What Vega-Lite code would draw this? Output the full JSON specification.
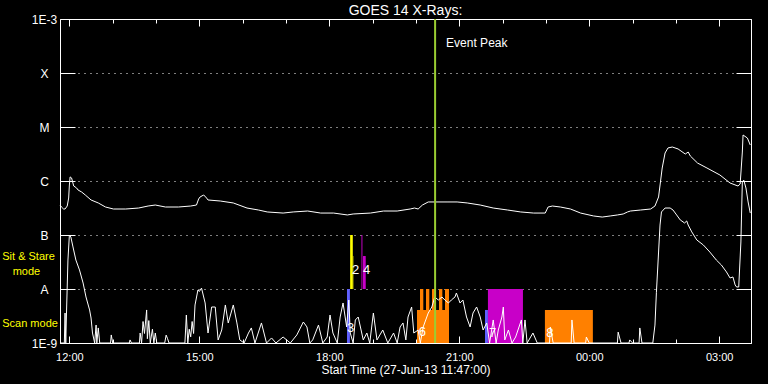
{
  "$schema": "https://vega.github.io/schema/vega-lite/v6.json",
  "width": 691,
  "height": 324,
  "autosize": {"type": "none"},
  "padding": {"left": 60, "top": 19, "right": 17, "bottom": 41},
  "background": "black",
  "title": {"text": "GOES 14 X-Rays:", "color": "white", "fontSize": 14, "fontWeight": "normal", "font": "Liberation Sans", "offset": -5},
  "config": {
    "view": {"stroke": null},
    "font": "Liberation Sans",
    "axis": {"labelColor": "white", "titleColor": "white", "tickColor": "white", "domainColor": "white", "gridColor": "white", "labelFont": "Liberation Sans", "titleFont": "Liberation Sans", "titleFontWeight": "normal", "tickWidth": 1, "domainWidth": 1, "gridOpacity": 1}
  },
  "datasets": {
    "xray": [
      {"ch":"long","t":"2013-06-27T11:47Z","f":3.59e-7},{"ch":"long","t":"2013-06-27T11:49Z","f":3.30e-7},{"ch":"long","t":"2013-06-27T11:52Z","f":3.03e-7},{"ch":"long","t":"2013-06-27T11:54Z","f":3.03e-7},{"ch":"long","t":"2013-06-27T11:57Z","f":3.44e-7},{"ch":"long","t":"2013-06-27T11:59Z","f":4.84e-7},{"ch":"long","t":"2013-06-27T12:00Z","f":8.43e-7},{"ch":"long","t":"2013-06-27T12:01Z","f":1.19e-6},{"ch":"long","t":"2013-06-27T12:03Z","f":1.14e-6},{"ch":"long","t":"2013-06-27T12:06Z","f":8.08e-7},{"ch":"long","t":"2013-06-27T12:10Z","f":7.42e-7},{"ch":"long","t":"2013-06-27T12:12Z","f":6.81e-7},{"ch":"long","t":"2013-06-27T12:17Z","f":6.25e-7},{"ch":"long","t":"2013-06-27T12:22Z","f":5.51e-7},{"ch":"long","t":"2013-06-27T12:30Z","f":4.45e-7},{"ch":"long","t":"2013-06-27T12:40Z","f":3.92e-7},{"ch":"long","t":"2013-06-27T12:50Z","f":3.30e-7},{"ch":"long","t":"2013-06-27T13:01Z","f":3.03e-7},{"ch":"long","t":"2013-06-27T13:18Z","f":3.03e-7},{"ch":"long","t":"2013-06-27T13:36Z","f":3.16e-7},{"ch":"long","t":"2013-06-27T13:49Z","f":3.44e-7},{"ch":"long","t":"2013-06-27T13:59Z","f":3.59e-7},{"ch":"long","t":"2013-06-27T14:13Z","f":3.30e-7},{"ch":"long","t":"2013-06-27T14:31Z","f":3.30e-7},{"ch":"long","t":"2013-06-27T14:48Z","f":3.44e-7},{"ch":"long","t":"2013-06-27T14:56Z","f":3.59e-7},{"ch":"long","t":"2013-06-27T14:59Z","f":4.64e-7},{"ch":"long","t":"2013-06-27T15:01Z","f":5.06e-7},{"ch":"long","t":"2013-06-27T15:06Z","f":5.51e-7},{"ch":"long","t":"2013-06-27T15:10Z","f":4.84e-7},{"ch":"long","t":"2013-06-27T15:12Z","f":4.45e-7},{"ch":"long","t":"2013-06-27T15:29Z","f":4.26e-7},{"ch":"long","t":"2013-06-27T15:47Z","f":3.92e-7},{"ch":"long","t":"2013-06-27T16:06Z","f":3.16e-7},{"ch":"long","t":"2013-06-27T16:22Z","f":2.90e-7},{"ch":"long","t":"2013-06-27T16:34Z","f":2.67e-7},{"ch":"long","t":"2013-06-27T16:56Z","f":2.55e-7},{"ch":"long","t":"2013-06-27T17:10Z","f":2.67e-7},{"ch":"long","t":"2013-06-27T17:30Z","f":2.78e-7},{"ch":"long","t":"2013-06-27T17:48Z","f":2.55e-7},{"ch":"long","t":"2013-06-27T18:06Z","f":2.55e-7},{"ch":"long","t":"2013-06-27T18:25Z","f":2.35e-7},{"ch":"long","t":"2013-06-27T18:33Z","f":2.45e-7},{"ch":"long","t":"2013-06-27T18:57Z","f":2.55e-7},{"ch":"long","t":"2013-06-27T19:15Z","f":2.78e-7},{"ch":"long","t":"2013-06-27T19:34Z","f":2.78e-7},{"ch":"long","t":"2013-06-27T19:52Z","f":3.03e-7},{"ch":"long","t":"2013-06-27T19:58Z","f":3.16e-7},{"ch":"long","t":"2013-06-27T20:03Z","f":3.03e-7},{"ch":"long","t":"2013-06-27T20:09Z","f":3.59e-7},{"ch":"long","t":"2013-06-27T20:17Z","f":4.09e-7},{"ch":"long","t":"2013-06-27T20:43Z","f":4.09e-7},{"ch":"long","t":"2013-06-27T20:57Z","f":4.09e-7},{"ch":"long","t":"2013-06-27T21:11Z","f":3.92e-7},{"ch":"long","t":"2013-06-27T21:29Z","f":3.59e-7},{"ch":"long","t":"2013-06-27T21:47Z","f":3.16e-7},{"ch":"long","t":"2013-06-27T22:07Z","f":2.90e-7},{"ch":"long","t":"2013-06-27T22:25Z","f":2.67e-7},{"ch":"long","t":"2013-06-27T22:43Z","f":2.55e-7},{"ch":"long","t":"2013-06-27T22:59Z","f":2.55e-7},{"ch":"long","t":"2013-06-27T23:03Z","f":3.30e-7},{"ch":"long","t":"2013-06-27T23:09Z","f":3.44e-7},{"ch":"long","t":"2013-06-27T23:20Z","f":3.30e-7},{"ch":"long","t":"2013-06-27T23:34Z","f":3.03e-7},{"ch":"long","t":"2013-06-27T23:48Z","f":2.55e-7},{"ch":"long","t":"2013-06-28T00:06Z","f":2.25e-7},{"ch":"long","t":"2013-06-28T00:18Z","f":2.15e-7},{"ch":"long","t":"2013-06-28T00:29Z","f":2.25e-7},{"ch":"long","t":"2013-06-28T00:39Z","f":2.35e-7},{"ch":"long","t":"2013-06-28T00:47Z","f":2.45e-7},{"ch":"long","t":"2013-06-28T00:53Z","f":2.67e-7},{"ch":"long","t":"2013-06-28T00:57Z","f":2.78e-7},{"ch":"long","t":"2013-06-28T01:11Z","f":2.90e-7},{"ch":"long","t":"2013-06-28T01:25Z","f":3.03e-7},{"ch":"long","t":"2013-06-28T01:31Z","f":3.44e-7},{"ch":"long","t":"2013-06-28T01:36Z","f":5.06e-7},{"ch":"long","t":"2013-06-28T01:41Z","f":1.74e-6},{"ch":"long","t":"2013-06-28T01:45Z","f":3.30e-6},{"ch":"long","t":"2013-06-28T01:49Z","f":4.09e-6},{"ch":"long","t":"2013-06-28T01:55Z","f":4.26e-6},{"ch":"long","t":"2013-06-28T02:03Z","f":3.92e-6},{"ch":"long","t":"2013-06-28T02:13Z","f":3.16e-6},{"ch":"long","t":"2013-06-28T02:17Z","f":3.44e-6},{"ch":"long","t":"2013-06-28T02:20Z","f":2.90e-6},{"ch":"long","t":"2013-06-28T02:30Z","f":2.15e-6},{"ch":"long","t":"2013-06-28T02:43Z","f":1.74e-6},{"ch":"long","t":"2013-06-28T03:01Z","f":1.29e-6},{"ch":"long","t":"2013-06-28T03:15Z","f":9.18e-7},{"ch":"long","t":"2013-06-28T03:26Z","f":8.08e-7},{"ch":"long","t":"2013-06-28T03:29Z","f":8.79e-7},{"ch":"long","t":"2013-06-28T03:32Z","f":3.44e-6},{"ch":"long","t":"2013-06-28T03:33Z","f":7.11e-6},{"ch":"long","t":"2013-06-28T03:39Z","f":6.25e-6},{"ch":"long","t":"2013-06-28T03:43Z","f":4.64e-6},
      {"ch":"short","t":"2013-06-27T11:47Z","f":1e-9},{"ch":"short","t":"2013-06-27T11:53Z","f":1e-9},{"ch":"short","t":"2013-06-27T11:54Z","f":3.59e-9},{"ch":"short","t":"2013-06-27T11:55Z","f":1e-9},{"ch":"short","t":"2013-06-27T11:56Z","f":3.59e-9},{"ch":"short","t":"2013-06-27T11:58Z","f":3.44e-8},{"ch":"short","t":"2013-06-27T12:00Z","f":1.0e-7},{"ch":"short","t":"2013-06-27T12:02Z","f":9.2e-8},{"ch":"short","t":"2013-06-27T12:05Z","f":6.0e-8},{"ch":"short","t":"2013-06-27T12:09Z","f":3.44e-8},{"ch":"short","t":"2013-06-27T12:14Z","f":2.25e-8},{"ch":"short","t":"2013-06-27T12:19Z","f":1.29e-8},{"ch":"short","t":"2013-06-27T12:23Z","f":7.11e-9},{"ch":"short","t":"2013-06-27T12:28Z","f":4.09e-9},{"ch":"short","t":"2013-06-27T12:30Z","f":2.9e-9},{"ch":"short","t":"2013-06-27T12:32Z","f":1.53e-9},{"ch":"short","t":"2013-06-27T12:35Z","f":1e-9},{"ch":"short","t":"2013-06-27T12:37Z","f":2.15e-9},{"ch":"short","t":"2013-06-27T12:38Z","f":1e-9},{"ch":"short","t":"2013-06-27T12:40Z","f":1.9e-9},{"ch":"short","t":"2013-06-27T12:42Z","f":1e-9},{"ch":"short","t":"2013-06-27T12:57Z","f":1e-9},{"ch":"short","t":"2013-06-27T12:58Z","f":1.41e-9},{"ch":"short","t":"2013-06-27T13:00Z","f":1e-9},{"ch":"short","t":"2013-06-27T13:23Z","f":1e-9},{"ch":"short","t":"2013-06-27T13:24Z","f":1.14e-9},{"ch":"short","t":"2013-06-27T13:26Z","f":1e-9},{"ch":"short","t":"2013-06-27T13:37Z","f":1e-9},{"ch":"short","t":"2013-06-27T13:38Z","f":1.53e-9},{"ch":"short","t":"2013-06-27T13:40Z","f":1e-9},{"ch":"short","t":"2013-06-27T13:42Z","f":2.5e-9},{"ch":"short","t":"2013-06-27T13:44Z","f":1.5e-9},{"ch":"short","t":"2013-06-27T13:47Z","f":4.09e-9},{"ch":"short","t":"2013-06-27T13:48Z","f":1.2e-9},{"ch":"short","t":"2013-06-27T13:50Z","f":2.6e-9},{"ch":"short","t":"2013-06-27T13:52Z","f":1e-9},{"ch":"short","t":"2013-06-27T13:55Z","f":1.8e-9},{"ch":"short","t":"2013-06-27T13:57Z","f":1e-9},{"ch":"short","t":"2013-06-27T13:59Z","f":1.53e-9},{"ch":"short","t":"2013-06-27T14:01Z","f":1e-9},{"ch":"short","t":"2013-06-27T14:12Z","f":1e-9},{"ch":"short","t":"2013-06-27T14:14Z","f":1.4e-9},{"ch":"short","t":"2013-06-27T14:16Z","f":1.2e-9},{"ch":"short","t":"2013-06-27T14:18Z","f":1e-9},{"ch":"short","t":"2013-06-27T14:40Z","f":1e-9},{"ch":"short","t":"2013-06-27T14:42Z","f":3.3e-9},{"ch":"short","t":"2013-06-27T14:44Z","f":1e-9},{"ch":"short","t":"2013-06-27T14:46Z","f":1.8e-9},{"ch":"short","t":"2013-06-27T14:48Z","f":1.3e-9},{"ch":"short","t":"2013-06-27T14:50Z","f":2.5e-9},{"ch":"short","t":"2013-06-27T14:52Z","f":1.5e-9},{"ch":"short","t":"2013-06-27T14:54Z","f":5.06e-9},{"ch":"short","t":"2013-06-27T14:58Z","f":9.58e-9},{"ch":"short","t":"2013-06-27T15:00Z","f":9.0e-9},{"ch":"short","t":"2013-06-27T15:03Z","f":1.04e-8},{"ch":"short","t":"2013-06-27T15:08Z","f":5.51e-9},{"ch":"short","t":"2013-06-27T15:12Z","f":1.53e-9},{"ch":"short","t":"2013-06-27T15:17Z","f":4.64e-9},{"ch":"short","t":"2013-06-27T15:22Z","f":4.64e-9},{"ch":"short","t":"2013-06-27T15:26Z","f":1.14e-9},{"ch":"short","t":"2013-06-27T15:31Z","f":1.74e-9},{"ch":"short","t":"2013-06-27T15:36Z","f":5.06e-9},{"ch":"short","t":"2013-06-27T15:40Z","f":2.35e-9},{"ch":"short","t":"2013-06-27T15:47Z","f":5.06e-9},{"ch":"short","t":"2013-06-27T15:52Z","f":2.35e-9},{"ch":"short","t":"2013-06-27T15:56Z","f":1.14e-9},{"ch":"short","t":"2013-06-27T16:02Z","f":1e-9},{"ch":"short","t":"2013-06-27T16:08Z","f":1.53e-9},{"ch":"short","t":"2013-06-27T16:12Z","f":1.9e-9},{"ch":"short","t":"2013-06-27T16:17Z","f":1e-9},{"ch":"short","t":"2013-06-27T16:26Z","f":2.35e-9},{"ch":"short","t":"2013-06-27T16:33Z","f":1e-9},{"ch":"short","t":"2013-06-27T16:40Z","f":1.24e-9},{"ch":"short","t":"2013-06-27T16:46Z","f":1e-9},{"ch":"short","t":"2013-06-27T16:56Z","f":1.29e-9},{"ch":"short","t":"2013-06-27T17:06Z","f":1e-9},{"ch":"short","t":"2013-06-27T17:15Z","f":1.41e-9},{"ch":"short","t":"2013-06-27T17:24Z","f":2.45e-9},{"ch":"short","t":"2013-06-27T17:29Z","f":1.98e-9},{"ch":"short","t":"2013-06-27T17:33Z","f":1e-9},{"ch":"short","t":"2013-06-27T17:37Z","f":1.14e-9},{"ch":"short","t":"2013-06-27T17:45Z","f":2.15e-9},{"ch":"short","t":"2013-06-27T17:51Z","f":1e-9},{"ch":"short","t":"2013-06-27T17:57Z","f":1.29e-9},{"ch":"short","t":"2013-06-27T18:01Z","f":3.3e-9},{"ch":"short","t":"2013-06-27T18:05Z","f":1.53e-9},{"ch":"short","t":"2013-06-27T18:11Z","f":1e-9},{"ch":"short","t":"2013-06-27T18:15Z","f":3.03e-9},{"ch":"short","t":"2013-06-27T18:19Z","f":5.51e-9},{"ch":"short","t":"2013-06-27T18:24Z","f":1.98e-9},{"ch":"short","t":"2013-06-27T18:27Z","f":6.25e-9},{"ch":"short","t":"2013-06-27T18:29Z","f":1.53e-9},{"ch":"short","t":"2013-06-27T18:33Z","f":1e-9},{"ch":"short","t":"2013-06-27T18:36Z","f":2.67e-9},{"ch":"short","t":"2013-06-27T18:40Z","f":3.03e-9},{"ch":"short","t":"2013-06-27T18:47Z","f":1.14e-9},{"ch":"short","t":"2013-06-27T18:52Z","f":1.53e-9},{"ch":"short","t":"2013-06-27T18:56Z","f":1e-9},{"ch":"short","t":"2013-06-27T19:01Z","f":3.59e-9},{"ch":"short","t":"2013-06-27T19:06Z","f":1.14e-9},{"ch":"short","t":"2013-06-27T19:14Z","f":1.74e-9},{"ch":"short","t":"2013-06-27T19:21Z","f":1e-9},{"ch":"short","t":"2013-06-27T19:29Z","f":1.53e-9},{"ch":"short","t":"2013-06-27T19:34Z","f":1e-9},{"ch":"short","t":"2013-06-27T19:38Z","f":1.98e-9},{"ch":"short","t":"2013-06-27T19:42Z","f":2.35e-9},{"ch":"short","t":"2013-06-27T19:46Z","f":1.14e-9},{"ch":"short","t":"2013-06-27T19:49Z","f":3.03e-9},{"ch":"short","t":"2013-06-27T19:54Z","f":4.64e-9},{"ch":"short","t":"2013-06-27T19:57Z","f":1.53e-9},{"ch":"short","t":"2013-06-27T20:03Z","f":1.74e-9},{"ch":"short","t":"2013-06-27T20:06Z","f":1e-9},{"ch":"short","t":"2013-06-27T20:10Z","f":1.98e-9},{"ch":"short","t":"2013-06-27T20:17Z","f":3.59e-9},{"ch":"short","t":"2013-06-27T20:22Z","f":4.64e-9},{"ch":"short","t":"2013-06-27T20:26Z","f":7.11e-9},{"ch":"short","t":"2013-06-27T20:31Z","f":6.25e-9},{"ch":"short","t":"2013-06-27T20:36Z","f":7.11e-9},{"ch":"short","t":"2013-06-27T20:40Z","f":6.25e-9},{"ch":"short","t":"2013-06-27T20:45Z","f":5.51e-9},{"ch":"short","t":"2013-06-27T20:49Z","f":6.25e-9},{"ch":"short","t":"2013-06-27T20:54Z","f":7.11e-9},{"ch":"short","t":"2013-06-27T20:56Z","f":8.43e-9},{"ch":"short","t":"2013-06-27T21:01Z","f":5.51e-9},{"ch":"short","t":"2013-06-27T21:05Z","f":6.25e-9},{"ch":"short","t":"2013-06-27T21:10Z","f":3.03e-9},{"ch":"short","t":"2013-06-27T21:15Z","f":1.98e-9},{"ch":"short","t":"2013-06-27T21:19Z","f":3.59e-9},{"ch":"short","t":"2013-06-27T21:24Z","f":4.64e-9},{"ch":"short","t":"2013-06-27T21:29Z","f":3.03e-9},{"ch":"short","t":"2013-06-27T21:33Z","f":1.74e-9},{"ch":"short","t":"2013-06-27T21:38Z","f":2.35e-9},{"ch":"short","t":"2013-06-27T21:42Z","f":1e-9},{"ch":"short","t":"2013-06-27T21:47Z","f":2.67e-9},{"ch":"short","t":"2013-06-27T21:51Z","f":1e-9},{"ch":"short","t":"2013-06-27T21:54Z","f":1.74e-9},{"ch":"short","t":"2013-06-27T21:59Z","f":3.03e-9},{"ch":"short","t":"2013-06-27T22:01Z","f":4.64e-9},{"ch":"short","t":"2013-06-27T22:03Z","f":1.14e-9},{"ch":"short","t":"2013-06-27T22:08Z","f":1.74e-9},{"ch":"short","t":"2013-06-27T22:13Z","f":1e-9},{"ch":"short","t":"2013-06-27T22:18Z","f":1.29e-9},{"ch":"short","t":"2013-06-27T22:26Z","f":2.67e-9},{"ch":"short","t":"2013-06-27T22:28Z","f":1e-9},{"ch":"short","t":"2013-06-27T22:31Z","f":2.67e-9},{"ch":"short","t":"2013-06-27T22:34Z","f":1e-9},{"ch":"short","t":"2013-06-27T22:42Z","f":1.53e-9},{"ch":"short","t":"2013-06-27T22:48Z","f":1e-9},{"ch":"short","t":"2013-06-27T23:05Z","f":1e-9},{"ch":"short","t":"2013-06-27T23:06Z","f":1.98e-9},{"ch":"short","t":"2013-06-27T23:10Z","f":1e-9},{"ch":"short","t":"2013-06-27T23:35Z","f":1e-9},{"ch":"short","t":"2013-06-27T23:36Z","f":2.67e-9},{"ch":"short","t":"2013-06-27T23:39Z","f":1e-9},{"ch":"short","t":"2013-06-27T23:55Z","f":1e-9},{"ch":"short","t":"2013-06-27T23:56Z","f":1.29e-9},{"ch":"short","t":"2013-06-28T00:00Z","f":1e-9},{"ch":"short","t":"2013-06-28T00:39Z","f":1e-9},{"ch":"short","t":"2013-06-28T00:40Z","f":1.59e-9},{"ch":"short","t":"2013-06-28T00:44Z","f":1e-9},{"ch":"short","t":"2013-06-28T00:55Z","f":1e-9},{"ch":"short","t":"2013-06-28T00:56Z","f":1.14e-9},{"ch":"short","t":"2013-06-28T01:00Z","f":1e-9},{"ch":"short","t":"2013-06-28T01:09Z","f":1e-9},{"ch":"short","t":"2013-06-28T01:10Z","f":1.9e-9},{"ch":"short","t":"2013-06-28T01:13Z","f":1e-9},{"ch":"short","t":"2013-06-28T01:28Z","f":1e-9},{"ch":"short","t":"2013-06-28T01:29Z","f":1.29e-9},{"ch":"short","t":"2013-06-28T01:31Z","f":2.15e-9},{"ch":"short","t":"2013-06-28T01:33Z","f":8.7e-9},{"ch":"short","t":"2013-06-28T01:36Z","f":4.84e-8},{"ch":"short","t":"2013-06-28T01:38Z","f":1.53e-7},{"ch":"short","t":"2013-06-28T01:40Z","f":2.67e-7},{"ch":"short","t":"2013-06-28T01:45Z","f":3.16e-7},{"ch":"short","t":"2013-06-28T01:52Z","f":3.16e-7},{"ch":"short","t":"2013-06-28T01:56Z","f":2.9e-7},{"ch":"short","t":"2013-06-28T02:01Z","f":2.35e-7},{"ch":"short","t":"2013-06-28T02:06Z","f":1.9e-7},{"ch":"short","t":"2013-06-28T02:12Z","f":1.67e-7},{"ch":"short","t":"2013-06-28T02:15Z","f":1.82e-7},{"ch":"short","t":"2013-06-28T02:17Z","f":1.53e-7},{"ch":"short","t":"2013-06-28T02:22Z","f":1.14e-7},{"ch":"short","t":"2013-06-28T02:29Z","f":8.08e-8},{"ch":"short","t":"2013-06-28T02:38Z","f":6.53e-8},{"ch":"short","t":"2013-06-28T02:47Z","f":4.84e-8},{"ch":"short","t":"2013-06-28T02:56Z","f":3.44e-8},{"ch":"short","t":"2013-06-28T03:03Z","f":2.78e-8},{"ch":"short","t":"2013-06-28T03:10Z","f":2.07e-8},{"ch":"short","t":"2013-06-28T03:15Z","f":1.6e-8},{"ch":"short","t":"2013-06-28T03:19Z","f":1.67e-8},{"ch":"short","t":"2013-06-28T03:22Z","f":1.19e-8},{"ch":"short","t":"2013-06-28T03:24Z","f":1.09e-8},{"ch":"short","t":"2013-06-28T03:27Z","f":1.09e-8},{"ch":"short","t":"2013-06-28T03:30Z","f":7.42e-8},{"ch":"short","t":"2013-06-28T03:32Z","f":9.58e-7},{"ch":"short","t":"2013-06-28T03:34Z","f":1.04e-6},{"ch":"short","t":"2013-06-28T03:37Z","f":7.42e-7},{"ch":"short","t":"2013-06-28T03:40Z","f":4.09e-7},{"ch":"short","t":"2013-06-28T03:43Z","f":2.55e-7}
    ],
    "obs": [
      {"p":"P1","s":"2013-06-27T18:24:30Z","e":"2013-06-27T18:28:30Z","lo":1e-9,"hi":1e-8},
      {"p":"P2","s":"2013-06-27T18:28:50Z","e":"2013-06-27T18:32:30Z","lo":1e-8,"hi":1e-7},
      {"p":"P2","s":"2013-06-27T18:32:30Z","e":"2013-06-27T18:33:15Z","lo":1e-8,"hi":4.08e-8},
      {"p":"P3","s":"2013-06-27T18:44:30Z","e":"2013-06-27T18:45:50Z","lo":1e-8,"hi":1e-7},
      {"p":"P3","s":"2013-06-27T18:46:40Z","e":"2013-06-27T18:50:25Z","lo":1e-8,"hi":4.08e-8},
      {"p":"P4","s":"2013-06-27T20:01:25Z","e":"2013-06-27T20:45:45Z","lo":1e-9,"hi":4.09e-9},
      {"p":"P4","s":"2013-06-27T20:05:35Z","e":"2013-06-27T20:10:10Z","lo":1e-9,"hi":1e-8},
      {"p":"P4","s":"2013-06-27T20:13:55Z","e":"2013-06-27T20:18:30Z","lo":1e-9,"hi":1e-8},
      {"p":"P4","s":"2013-06-27T20:22:10Z","e":"2013-06-27T20:27:40Z","lo":1e-9,"hi":1e-8},
      {"p":"P4","s":"2013-06-27T20:31:55Z","e":"2013-06-27T20:36:30Z","lo":1e-9,"hi":1e-8},
      {"p":"P4","s":"2013-06-27T20:40:10Z","e":"2013-06-27T20:45:45Z","lo":1e-9,"hi":1e-8},
      {"p":"P1","s":"2013-06-27T21:35:35Z","e":"2013-06-27T21:39:40Z","lo":1e-9,"hi":4.09e-9},
      {"p":"P3","s":"2013-06-27T21:39:40Z","e":"2013-06-27T22:28:10Z","lo":1e-9,"hi":1e-8},
      {"p":"P4","s":"2013-06-27T22:58:35Z","e":"2013-06-28T00:05:00Z","lo":1e-9,"hi":4.09e-9}
    ],
    "nums": [
      {"n":"2","t":"2013-06-27T18:36:30Z","f":2.25e-8},
      {"n":"4","t":"2013-06-27T18:51:30Z","f":2.25e-8},
      {"n":"3","t":"2013-06-27T18:29:30Z","f":1.9e-9},
      {"n":"6","t":"2013-06-27T20:09:00Z","f":1.6e-9},
      {"n":"7","t":"2013-06-27T21:46:00Z","f":1.5e-9},
      {"n":"8","t":"2013-06-27T23:05:30Z","f":1.53e-9}
    ],
    "peak": [{"label":"Event Peak","t":"2013-06-27T20:26:30Z"}],
    "notes": [
      {"label":"Sit & Stare","t":"2013-06-27T10:27Z","f":3.91e-8},
      {"label":"mode","t":"2013-06-27T10:41:30Z","f":2.1e-8},
      {"label":"Scan mode","t":"2013-06-27T10:27Z","f":2.25e-9}
    ]
  },
  "layer": [
    {
      "data": {"name": "obs"},
      "mark": {"type": "rect"},
      "encoding": {
        "x": {"field": "s", "type": "temporal",
          "scale": {"type": "utc", "domain": ["2013-06-27T11:47:00Z", "2013-06-28T03:44:00Z"], "nice": false},
          "axis": {"orient": "bottom", "format": "%H:%M", "values": ["2013-06-27T12:00:00Z","2013-06-27T15:00:00Z","2013-06-27T18:00:00Z","2013-06-27T21:00:00Z","2013-06-28T00:00:00Z","2013-06-28T03:00:00Z"], "tickSize": -7, "labelPadding": 15, "labelFontSize": 11, "labelFlush": false, "labelOverlap": false, "title": "Start Time (27-Jun-13 11:47:00)", "titleFontSize": 12, "titlePadding": 2, "grid": false, "domain": true}},
        "x2": {"field": "e"},
        "y": {"field": "lo", "type": "quantitative",
          "scale": {"type": "log", "domain": [1e-9, 1e-3], "nice": false},
          "axis": {"orient": "left", "values": [1e-9,1e-8,1e-7,1e-6,1e-5,1e-4,1e-3], "labelExpr": "datum.value > 5e-4 ? '1E-3' : datum.value > 5e-5 ? 'X' : datum.value > 5e-6 ? 'M' : datum.value > 5e-7 ? 'C' : datum.value > 5e-8 ? 'B' : datum.value > 5e-9 ? 'A' : '1E-9'", "tickSize": -15, "labelAlign": "center", "labelBaseline": "middle", "labelPadding": 31, "labelFontSize": 12, "labelFlush": false, "labelOverlap": false, "grid": true, "gridDash": [1,5], "gridWidth": 1, "title": null, "domain": true}},
        "y2": {"field": "hi"},
        "color": {"field": "p", "type": "nominal", "scale": {"domain": ["P1","P2","P3","P4"], "range": ["#6060ff","#ffff00","#c800c8","#ff8000"]}, "legend": null}
      }
    },
    {
      "data": {"name": "xray"},
      "mark": {"type": "line", "color": "white", "strokeWidth": 1},
      "encoding": {
        "x": {"field": "t", "type": "temporal", "axis": {"orient": "top", "labels": false, "values": ["2013-06-27T12:00:00Z","2013-06-27T15:00:00Z","2013-06-27T18:00:00Z","2013-06-27T21:00:00Z","2013-06-28T00:00:00Z","2013-06-28T03:00:00Z"], "tickSize": -7, "title": null, "grid": false, "domain": true}},
        "y": {"field": "f", "type": "quantitative", "axis": {"orient": "right", "labels": false, "values": [1e-9,1e-8,1e-7,1e-6,1e-5,1e-4,1e-3], "tickSize": -15, "title": null, "grid": false, "domain": true}},
        "detail": {"field": "ch", "type": "nominal"}
      }
    },
    {
      "data": {"name": "peak"},
      "mark": {"type": "rule", "color": "#9acd32", "strokeWidth": 2},
      "encoding": {
        "x": {"field": "t", "type": "temporal", "axis": {"orient": "top", "labels": false, "values": ["2013-06-27T12:00:00Z","2013-06-27T13:00:00Z","2013-06-27T14:00:00Z","2013-06-27T15:00:00Z","2013-06-27T16:00:00Z","2013-06-27T17:00:00Z","2013-06-27T18:00:00Z","2013-06-27T19:00:00Z","2013-06-27T20:00:00Z","2013-06-27T21:00:00Z","2013-06-27T22:00:00Z","2013-06-27T23:00:00Z","2013-06-28T00:00:00Z","2013-06-28T01:00:00Z","2013-06-28T02:00:00Z","2013-06-28T03:00:00Z"], "tickSize": -4, "title": null, "grid": false, "domain": false}}
      }
    },
    {
      "data": {"name": "peak"},
      "mark": {"type": "text", "align": "left", "baseline": "middle", "dx": 11, "color": "white", "fontSize": 12},
      "encoding": {
        "x": {"field": "t", "type": "temporal", "axis": {"orient": "bottom", "labels": false, "values": ["2013-06-27T12:00:00Z","2013-06-27T13:00:00Z","2013-06-27T14:00:00Z","2013-06-27T15:00:00Z","2013-06-27T16:00:00Z","2013-06-27T17:00:00Z","2013-06-27T18:00:00Z","2013-06-27T19:00:00Z","2013-06-27T20:00:00Z","2013-06-27T21:00:00Z","2013-06-27T22:00:00Z","2013-06-27T23:00:00Z","2013-06-28T00:00:00Z","2013-06-28T01:00:00Z","2013-06-28T02:00:00Z","2013-06-28T03:00:00Z"], "tickSize": -4, "title": null, "grid": false, "domain": false}},
        "y": {"datum": 0.00036, "type": "quantitative", "axis": null},
        "text": {"field": "label"}
      }
    },
    {
      "data": {"name": "nums"},
      "mark": {"type": "text", "align": "center", "baseline": "middle", "fontSize": 13, "color": "white"},
      "encoding": {
        "x": {"field": "t", "type": "temporal", "axis": null},
        "y": {"field": "f", "type": "quantitative", "axis": null},
        "text": {"field": "n"}
      }
    },
    {
      "data": {"name": "notes"},
      "mark": {"type": "text", "align": "left", "baseline": "middle", "color": "#ffff00", "fontSize": 11},
      "encoding": {
        "x": {"field": "t", "type": "temporal", "axis": null},
        "y": {"field": "f", "type": "quantitative", "axis": null},
        "text": {"field": "label"}
      }
    }
  ]
}
